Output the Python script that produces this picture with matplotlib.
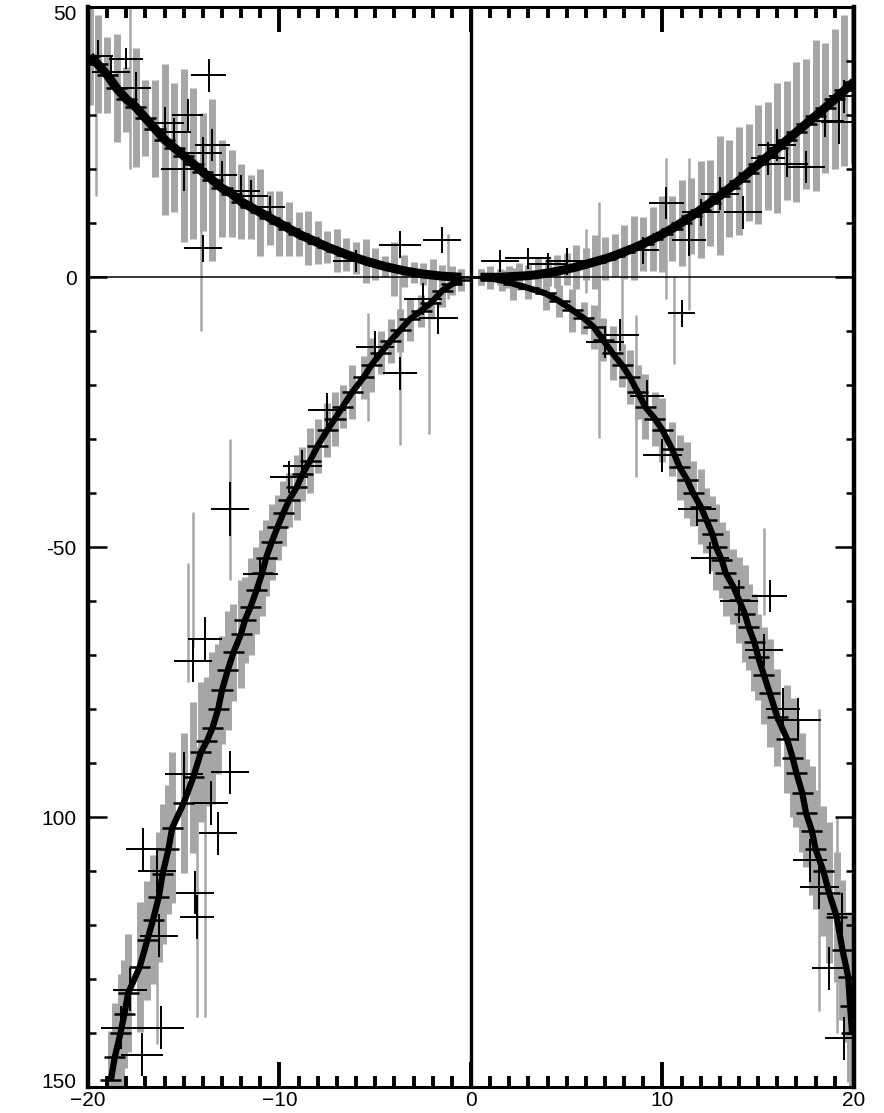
import matplotlib
matplotlib.use("Agg")
import matplotlib.pyplot as plt
from matplotlib.ticker import MultipleLocator
from matplotlib.transforms import ScaledTranslation

plt.rcParams['font.family'] = ['Liberation Sans', 'DejaVu Sans']

### data ###
# upper left branch (dense points, grey error bars)
ul_x = [-19.9, -19.5, -19.0, -18.5, -18.0, -17.5, -17.0, -16.5, -16.0, -15.5,
        -15.0, -14.5, -14.0, -13.5, -13.0, -12.5, -12.0, -11.5, -11.0, -10.5,
        -10.0, -9.5, -9.0, -8.5, -8.0, -7.5, -7.0, -6.5, -6.0, -5.5,
        -5.0, -4.5, -4.0, -3.5, -3.0, -2.5, -2.0, -1.5, -1.0, -0.5]
ul_y = [41.0, 39.5, 37.5, 35.0, 33.0, 31.5, 29.5, 27.5, 25.5, 24.0,
        22.5, 21.0, 19.5, 18.0, 16.5, 15.5, 14.0, 13.0, 12.0, 11.0,
        10.0, 9.0, 8.0, 7.2, 6.4, 5.6, 4.9, 4.2, 3.6, 3.0,
        2.5, 2.0, 1.6, 1.2, 0.9, 0.6, 0.4, 0.2, 0.1, 0.0]
ul_e = [9, 9, 7, 10, 6, 11, 7, 9, 14, 12,
        16, 14, 11, 15, 9, 8, 7, 6, 8, 5,
        6, 5, 4, 5, 4, 3, 4, 3, 3, 4,
        3, 2, 5, 3, 2, 2, 3, 2, 2, 1.5]

# upper right branch
ur_x = [0.5, 1.0, 1.5, 2.0, 2.5, 3.0, 3.5, 4.0, 4.5, 5.0,
        5.5, 6.0, 6.5, 7.0, 7.5, 8.0, 8.5, 9.0, 9.5, 10.0,
        10.5, 11.0, 11.5, 12.0, 12.5, 13.0, 13.5, 14.0, 14.5, 15.0,
        15.5, 16.0, 16.5, 17.0, 17.5, 18.0, 18.5, 19.0, 19.5, 20.0]
ur_y = [0.0, 0.0, 0.0, 0.1, 0.2, 0.3, 0.5, 0.8, 1.1, 1.5,
        1.9, 2.4, 2.9, 3.4, 4.0, 4.7, 5.4, 6.2, 7.1, 8.0,
        9.0, 10.1, 11.3, 12.5, 13.8, 15.1, 16.5, 17.9, 19.4, 20.9,
        22.4, 23.9, 25.4, 26.9, 28.4, 29.9, 31.4, 33.0, 34.6, 36.2]
ur_e = [1.5, 2, 1.5, 2, 2.5, 2, 3, 2.5, 3, 3,
        4, 3, 5, 4, 4, 5, 6, 5, 6, 7,
        6, 8, 7, 9, 8, 11, 9, 10, 9, 11,
        10, 12, 11, 13, 12, 14, 12, 13, 14, 15]

# lower left branch
ll_x = [-0.5, -1.0, -1.5, -2.1, -2.6, -3.2, -3.7, -4.2, -4.7, -5.2,
        -5.6, -6.2, -6.7, -7.1, -7.5, -8.0, -8.4, -8.8, -9.1, -9.5,
        -9.8, -10.1, -10.4, -10.7, -10.9, -11.2, -11.5, -11.8, -12.0, -12.4,
        -12.7, -13.0, -13.2, -13.5, -13.8, -14.1, -14.5, -15.0, -15.6, -15.8,
        -16.1, -16.3, -16.6, -16.9, -17.3, -17.9, -18.1, -18.3, -18.6, -18.8]
ll_y = [-0.5, -1.3, -2.5, -4.8, -6.2, -7.8, -9.8, -11.8, -14.0, -16.3,
        -18.5, -21.3, -24.0, -26.2, -28.3, -31.2, -34.0, -36.5, -38.9, -41.3,
        -43.7, -46.3, -49.0, -52.0, -54.8, -58.0, -61.0, -63.5, -66.0, -69.5,
        -72.8, -76.5, -80.0, -83.5, -86.0, -88.0, -92.6, -97.4, -102.0, -106.0,
        -110.5, -114.8, -119.0, -122.8, -127.8, -132.6, -136.5, -140.0, -144.5, -148.7]
ll_e = [2, 2, 3, 3, 3, 4, 4, 4, 4, 5,
        4, 5, 4, 5, 5, 5, 6, 5, 6, 5,
        6, 6, 7, 7, 8, 8, 9, 8, 10, 9,
        11, 10, 12, 14, 12, 13, 14, 13, 14, 12,
        13, 12, 12, 11, 12, 11, 10, 11, 10, 9]

# lower right branch
lr_x = [0.5, 1.0, 1.6, 2.2, 3.0, 3.9, 4.6, 5.3, 5.9, 6.4,
        6.9, 7.4, 7.9, 8.3, 8.7, 9.1, 9.6, 10.0, 10.5, 10.9,
        11.3, 11.6, 12.0, 12.3, 12.6, 12.8, 13.1, 13.3, 13.7, 14.0,
        14.3, 14.5, 14.8, 15.0, 15.3, 15.6, 16.0, 16.5, 16.8, 17.0,
        17.3, 17.5, 17.8, 18.0, 18.4, 18.7, 19.1, 19.4, 19.7, 19.8,
        19.9]
lr_y = [0.0, -0.2, -0.6, -1.2, -2.0, -3.0, -4.4, -6.1, -7.6, -9.2,
        -11.6, -14.1, -16.3, -18.5, -21.2, -24.0, -26.2, -28.3, -31.8, -35.2,
        -37.6, -40.0, -42.5, -45.0, -47.5, -50.0, -52.4, -54.8, -57.3, -59.8,
        -62.3, -64.8, -67.6, -70.4, -73.7, -77.0, -81.5, -85.5, -89.0, -91.9,
        -95.5, -99.3, -102.5, -106.0, -110.0, -114.0, -118.5, -124.6, -129.6, -135.0,
        -140.0]
lr_e = [1.5, 2, 2, 3, 2, 3, 3, 4, 3, 4,
        4, 5, 4, 5, 5, 6, 5, 6, 5, 6,
        7, 6, 7, 6, 7, 8, 7, 8, 7, 8,
        9, 8, 9, 8, 9, 10, 9, 10, 11, 10,
        11, 10, 12, 11, 12, 13, 12, 13, 12, 14,
        13]

# single long grey error bars standing out of the bands
sp_x = [-14.1, -17.8, -19.6, -2.2, -3.7, -5.4, -12.6, -14.5, -14.8, -13.9,
        -14.3, -16.4, 6.7, 10.2, 11.4, 6.0, 7.9, 6.7, 8.6, 10.6,
        15.3, 18.2, 19.1, -1.2]
sp_y = [2.0, 35.0, 30.0, -14.0, -15.5, -16.6, -43.0, -56.0, -64.0, -113.0,
        -112.0, -130.0, 4.0, 9.0, 8.0, 3.0, -7.6, -14.8, -22.0, -8.0,
        -54.5, -108.0, -120.0, 2.0]
sp_e = [12, 15, 15, 15, 15.5, 10, 13, 12.5, 11, 24,
        25, 12, 10, 13, 14, 6, 7.2, 15, 15, 8,
        8, 28, 20, 6]

# black crosses (second data set)
cr_x = [-19.5, -18.8, -18.0, -17.5, -16.0, -15.5, -15.0, -14.8, -14.0, -13.5,
        -13.0, -12.0, -11.5, -10.5, -14.0, -13.7, -6.0, -3.7, -1.5,
        1.5, 3.0, 4.0, 5.0, 10.2, 11.4, 12.0, 14.2, 15.5, 16.5, 17.5,
        18.5, 19.2, 9.0, 11.0, 13.0, 16.0, 19.5,
        -1.7, -3.7, -12.6, -12.6, -13.6, -13.2, -14.3, -14.4, -16.2, -17.2,
        -18.3, -17.1, -16.4, -15.0, -17.8, -16.3, -14.5, -13.9, -7.5, -9.5,
        -5.0, -11.0, -8.8, -2.5,
        7.8, 15.3, 17.1, 15.6, 18.7, 19.5, 18.2, 17.7, 12.5, 10.0,
        7.0, 9.2, 11.8, 14.0, 16.3, 19.4]
cr_y = [41.0, 38.0, 40.5, 35.0, 28.5, 27.0, 20.0, 30.0, 23.0, 24.5,
        19.0, 16.0, 15.0, 13.0, 5.4, 37.4, 3.0, 6.0, 6.9,
        3.0, 3.5, 2.5, 3.0, 13.7, 6.9, 12.0, 12.0, 22.0, 21.0, 20.4,
        29.0, 28.7, 5.0, -6.7, 15.5, 24.5, 33.5,
        -7.6, -17.8, -43.0, -91.7, -97.4, -103.0, -118.5, -114.0, -139.0, -144.0,
        -139.0, -106.0, -110.0, -92.0, -132.0, -122.0, -71.0, -67.0, -24.5, -37.0,
        -13.0, -55.0, -35.0, -4.0,
        -10.7, -69.0, -82.0, -59.0, -128.0, -141.0, -113.0, -108.0, -52.0, -33.0,
        -12.0, -22.0, -43.0, -60.0, -80.0, -118.0]
cr_xe = [0.8, 1.0, 0.9, 0.8, 1.0, 0.9, 1.2, 0.8, 1.0, 0.9,
         0.8, 1.0, 0.9, 0.8, 1.0, 0.9, 1.2, 1.1, 1.0,
         1.0, 1.2, 1.0, 1.1, 0.9, 0.9, 1.0, 1.0, 0.9, 1.1, 1.0,
         1.0, 0.9, 0.8, 0.7, 1.0, 1.0, 0.8,
         1.0, 0.9, 1.0, 1.0, 0.9, 1.0, 0.9, 1.0, 1.2, 1.1,
         1.0, 0.9, 1.0, 1.0, 0.9, 1.0, 1.0, 0.9, 1.0, 1.0,
         1.0, 0.9, 1.0, 1.0,
         1.0, 1.0, 1.2, 0.9, 0.9, 1.0, 1.0, 0.9, 1.0, 1.0,
         1.0, 0.9, 1.0, 1.0, 0.9, 0.8]
cr_ye = [3, 3, 2, 3, 3, 2.5, 4, 3, 3, 3,
         2.5, 3, 3, 2, 2.5, 3, 2, 2.5, 2.5,
         2, 2, 2, 2.5, 3, 3, 2.5, 3, 3, 2.5, 3,
         3, 4, 2.5, 2.5, 3, 3, 3,
         3, 3, 5, 4, 4, 4, 4, 4, 4, 4,
         4, 4, 4, 4, 4, 4, 4, 4, 3, 3,
         3, 3, 3, 3,
         3, 3, 4, 3, 4, 4, 4, 4, 3, 3,
         3, 3, 3, 4, 4, 4]

DENSE_XERR = 0.55

ytick_vals = [50, 0, -50, -100, -150]
ytick_labels = ['50', '0', '-50', '100', '150']
xtick_vals = [-20, -10, 0, 10, 20]
xtick_labels = ['\u221220', '\u221210', '0', '10', '20']

GREY = '#a6a6a6'

fig = plt.figure(figsize=(8.84, 11.13), dpi=100)
ax = fig.add_axes([0.0995, 0.0234, 0.8665, 0.970])

branches = [(ul_x, ul_y, ul_e, 6.5), (ur_x, ur_y, ur_e, 6.5),
            (ll_x, ll_y, ll_e, 4.5), (lr_x, lr_y, lr_e, 4.5)]

for bx, by, be, lw in branches:
    ax.errorbar(bx, by, yerr=be, fmt='none', ecolor=GREY, elinewidth=5.0, zorder=1)
ax.errorbar(sp_x, sp_y, yerr=sp_e, fmt='none', ecolor=GREY, elinewidth=1.8, zorder=1)

for bx, by, be, lw in branches:
    ax.plot(bx, by, '-', color='black', linewidth=lw, solid_capstyle='butt', zorder=3)
    ax.errorbar(bx, by, xerr=DENSE_XERR, fmt='none', ecolor='black', elinewidth=1.8, zorder=3)

ax.errorbar(cr_x, cr_y, xerr=cr_xe, yerr=cr_ye, fmt='none', ecolor='black', elinewidth=1.4, zorder=4)

ax.axvline(0, color='black', linewidth=2.4, zorder=2)
ax.axhline(0, color='black', linewidth=1.1, zorder=2)

ax.set_xlim(-20, 20)
ax.set_ylim(-150, 50)
ax.set_xticks(xtick_vals)
ax.set_xticklabels(xtick_labels)
ax.set_yticks(ytick_vals)
ax.set_yticklabels(ytick_labels)
ax.xaxis.set_minor_locator(MultipleLocator(1))
ax.yaxis.set_minor_locator(MultipleLocator(10))

ax.tick_params(axis='x', which='both', direction='in', top=True, bottom=True, labelsize=15, pad=3)
ax.tick_params(axis='x', which='major', length=18, width=2.8)
ax.tick_params(axis='x', which='minor', length=8, width=2.8)
ax.tick_params(axis='y', which='both', direction='in', left=True, right=True, labelsize=15, pad=8)
ax.tick_params(axis='y', which='major', length=14, width=1.8)
ax.tick_params(axis='y', which='minor', length=6, width=1.8)

# lift the bottom y label a little so it clears the x labels
bottom_label = ax.get_yticklabels()[-1]
bottom_label.set_transform(bottom_label.get_transform() + ScaledTranslation(0, 5 / 72, fig.dpi_scale_trans))
top_label = ax.get_yticklabels()[0]
top_label.set_transform(top_label.get_transform() + ScaledTranslation(0, -4 / 72, fig.dpi_scale_trans))

for side in ['left', 'right']:
    ax.spines[side].set_linewidth(3.2)
for side in ['top', 'bottom']:
    ax.spines[side].set_linewidth(2.2)

plt.savefig('out.png', dpi=100)
plt.close()
